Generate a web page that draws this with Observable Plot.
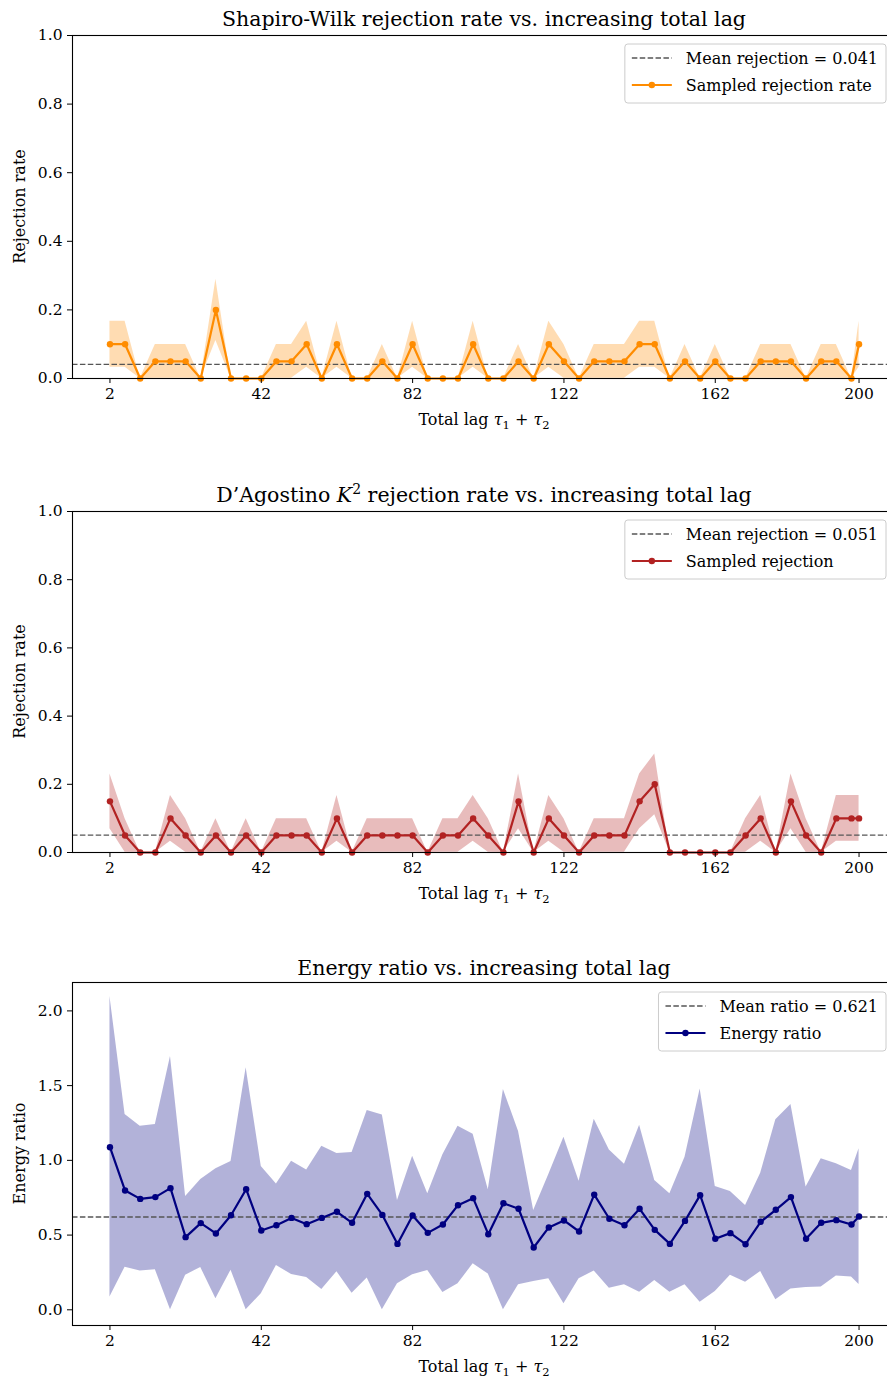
<!DOCTYPE html>
<html>
<head>
<meta charset="utf-8">
<script src="https://cdn.jsdelivr.net/npm/d3@7"></script>
<script src="https://cdn.jsdelivr.net/npm/@observablehq/plot@0.6"></script>
<style>
  html, body { margin: 0; padding: 0; background: #fff; }
  #root { position: relative; width: 887px; height: 1380px; overflow: hidden; background: #fff; }
  .panel { position: absolute; left: 0; width: 887px; height: 460px; }
  .panel svg { display: block; }
</style>
</head>
<body>
<div id="root"></div>
<script>
// ---------------- DATA ----------------
const lags = [2, 6, 10, 14, 18, 22, 26, 30, 34, 38, 42, 46, 50, 54, 58, 62, 66, 70, 74, 78,
  82, 86, 90, 94, 98, 102, 106, 110, 114, 118, 122, 126, 130, 134, 138, 142, 146, 150, 154, 158,
  162, 166, 170, 174, 178, 182, 186, 190, 194, 198, 200];
const xTickValues = [2, 42, 82, 122, 162, 200];

// Shapiro-Wilk
const swRate = [0.1, 0.1, 0, 0.05, 0.05, 0.05, 0, 0.2, 0, 0, 0, 0.05, 0.05, 0.1, 0, 0.1, 0, 0, 0.05, 0,
  0.1, 0, 0, 0, 0.1, 0, 0, 0.05, 0, 0.1, 0.05, 0, 0.05, 0.05, 0.05, 0.1, 0.1, 0, 0.05, 0,
  0.05, 0, 0, 0.05, 0.05, 0.05, 0, 0.05, 0.05, 0, 0.1];
const swLow = [0.033, 0.033, 0, 0.001, 0.001, 0.001, 0, 0.111, 0, 0, 0, 0.001, 0.001, 0.033, 0, 0.033, 0, 0, 0.001, 0,
  0.033, 0, 0, 0, 0.033, 0, 0, 0.001, 0, 0.033, 0.001, 0, 0.001, 0.001, 0.001, 0.033, 0.033, 0, 0.001, 0,
  0.001, 0, 0, 0.001, 0.001, 0.001, 0, 0.001, 0.001, 0, 0.033];
const swHigh = [0.167, 0.167, 0, 0.099, 0.099, 0.099, 0, 0.289, 0, 0, 0, 0.099, 0.099, 0.167, 0, 0.167, 0, 0, 0.099, 0,
  0.167, 0, 0, 0, 0.167, 0, 0, 0.099, 0, 0.167, 0.099, 0, 0.099, 0.099, 0.099, 0.167, 0.167, 0, 0.099, 0,
  0.099, 0, 0, 0.099, 0.099, 0.099, 0, 0.099, 0.099, 0, 0.167];
const swMean = 0.041;

// D'Agostino K^2
const dagRate = [0.15, 0.05, 0, 0, 0.1, 0.05, 0, 0.05, 0, 0.05, 0, 0.05, 0.05, 0.05, 0, 0.1, 0, 0.05, 0.05, 0.05,
  0.05, 0, 0.05, 0.05, 0.1, 0.05, 0, 0.15, 0, 0.1, 0.05, 0, 0.05, 0.05, 0.05, 0.15, 0.2, 0, 0, 0,
  0, 0, 0.05, 0.1, 0, 0.15, 0.05, 0, 0.1, 0.1, 0.1];
const dagLow = [0.070, 0.001, 0, 0, 0.033, 0.001, 0, 0.001, 0, 0.001, 0, 0.001, 0.001, 0.001, 0, 0.033, 0, 0.001, 0.001, 0.001,
  0.001, 0, 0.001, 0.001, 0.033, 0.001, 0, 0.070, 0, 0.033, 0.001, 0, 0.001, 0.001, 0.001, 0.070, 0.111, 0, 0, 0,
  0, 0, 0.001, 0.033, 0, 0.070, 0.001, 0, 0.033, 0.033, 0.033];
const dagHigh = [0.230, 0.099, 0, 0, 0.167, 0.099, 0, 0.099, 0, 0.099, 0, 0.099, 0.099, 0.099, 0, 0.167, 0, 0.099, 0.099, 0.099,
  0.099, 0, 0.099, 0.099, 0.167, 0.099, 0, 0.230, 0, 0.167, 0.099, 0, 0.099, 0.099, 0.099, 0.230, 0.289, 0, 0, 0,
  0, 0, 0.099, 0.167, 0, 0.230, 0.099, 0, 0.167, 0.167, 0.167];
const dagMean = 0.051;

// Energy ratio
const energyRatio = [1.088, 0.798, 0.742, 0.754, 0.814, 0.486, 0.580, 0.511, 0.633, 0.807,
  0.531, 0.566, 0.615, 0.573, 0.615, 0.656, 0.582, 0.776, 0.635, 0.441,
  0.631, 0.515, 0.571, 0.700, 0.747, 0.506, 0.713, 0.676, 0.417, 0.551,
  0.598, 0.524, 0.771, 0.609, 0.566, 0.676, 0.535, 0.441, 0.595, 0.767,
  0.475, 0.513, 0.439, 0.589, 0.669, 0.754, 0.475, 0.582, 0.600, 0.571, 0.624];
const energyLow = [0.085, 0.285, 0.259, 0.268, 0.000, 0.232, 0.283, 0.074, 0.265, 0.000,
  0.107, 0.297, 0.236, 0.216, 0.136, 0.254, 0.111, 0.212, 0.000, 0.174,
  0.234, 0.263, 0.116, 0.174, 0.308, 0.239, 0.000, 0.167, 0.190, 0.207,
  0.040, 0.207, 0.259, 0.145, 0.167, 0.118, 0.196, 0.118, 0.167, 0.051,
  0.123, 0.232, 0.185, 0.256, 0.067, 0.140, 0.149, 0.152, 0.227, 0.219, 0.169];
const energyHigh = [2.096, 1.307, 1.229, 1.240, 1.695, 0.758, 0.872, 0.943, 0.992, 1.619,
  0.959, 0.841, 0.994, 0.936, 1.095, 1.046, 1.052, 1.333, 1.304, 0.731,
  1.028, 0.776, 1.037, 1.229, 1.175, 0.803, 1.474, 1.193, 0.664, 0.905,
  1.155, 0.861, 1.275, 1.070, 0.974, 1.235, 0.865, 0.776, 1.021, 1.478,
  0.825, 0.792, 0.698, 0.914, 1.271, 1.373, 0.821, 1.010, 0.977, 0.932, 1.077];
const energyMean = 0.621;

const rejTicks = [0, 0.2, 0.4, 0.6, 0.8, 1.0];
const energyTicks = [0, 0.5, 1.0, 1.5, 2.0];

// ---------------- DRAW ----------------
const FONT = "DejaVu Serif, serif";
const TICK_FS = 15.5;
const LAB_FS = 16;
const TITLE_FS = 20.5;
const root = document.getElementById("root");

function makePanel({top, rate, lo, hi, mean, color, yDomain, yTicks, mt, mb}) {
  const data = lags.map((x, i) => ({x, y: rate[i], lo: lo[i], hi: hi[i]}));
  const chart = Plot.plot({
    width: 887,
    height: 460,
    marginLeft: 72,
    marginRight: -9,
    marginTop: mt,
    marginBottom: mb,
    style: {fontFamily: FONT, fontSize: TICK_FS + "px", background: "transparent", color: "#000", overflow: "visible"},
    x: {domain: [-7.9, 209.9]},
    y: {domain: yDomain},
    marks: [
      Plot.areaY(data, {x: "x", y1: "lo", y2: "hi", fill: color, fillOpacity: 0.3, curve: "linear"}),
      Plot.ruleY([mean], {stroke: "#555", strokeWidth: 1.3, strokeDasharray: "5.5,2.4"}),
      Plot.line(data, {x: "x", y: "y", stroke: color, strokeWidth: 2.2, curve: "linear"}),
      Plot.dot(data, {x: "x", y: "y", fill: color, r: 3.2}),
      Plot.axisX({ticks: xTickValues, tickSize: 5, tickPadding: 4, label: null, fontSize: TICK_FS}),
      Plot.axisY({ticks: yTicks, tickFormat: d3.format(".1f"), tickSize: 5, tickPadding: 5, label: null, fontSize: TICK_FS}),
      Plot.frame({stroke: "#000", strokeWidth: 1.1})
    ]
  });
  const div = document.createElement("div");
  div.className = "panel";
  div.style.top = top + "px";
  div.appendChild(chart);
  root.appendChild(div);
}

makePanel({top: 0, rate: swRate, lo: swLow, hi: swHigh, mean: swMean, color: "#ff8c00",
  yDomain: [0, 1], yTicks: rejTicks, mt: 35, mb: 82});
makePanel({top: 460, rate: dagRate, lo: dagLow, hi: dagHigh, mean: dagMean, color: "#b22222",
  yDomain: [0, 1], yTicks: rejTicks, mt: 51, mb: 68});
makePanel({top: 920, rate: energyRatio, lo: energyLow, hi: energyHigh, mean: energyMean, color: "#000080",
  yDomain: [-0.105, 2.19], yTicks: energyTicks, mt: 62, mb: 55});

// ---------------- TEXT OVERLAY (titles, axis labels, legends) ----------------
const ov = d3.select(root).append("svg")
  .attr("width", 887).attr("height", 1380)
  .style("position", "absolute").style("left", 0).style("top", 0)
  .style("pointer-events", "none")
  .attr("font-family", FONT);

const CX = 484;
function richText(g, x, y, parts, fs, anchor, rotate) {
  const t = g.append("text").attr("x", x).attr("y", y).attr("font-size", fs)
    .attr("text-anchor", anchor || "middle").attr("fill", "#000");
  if (rotate) t.attr("transform", `rotate(-90 ${x} ${y})`);
  for (const p of parts) {
    const s = t.append("tspan").text(p.t);
    if (p.i) s.attr("font-style", "italic");
    if (p.dy) s.attr("dy", p.dy);
    if (p.fs) s.attr("font-size", p.fs);
  }
  return t;
}

// Titles
richText(ov, CX, 26, [{t: "Shapiro-Wilk rejection rate vs. increasing total lag"}], TITLE_FS);
richText(ov, CX, 502, [{t: "D\u2019Agostino "}, {t: "K", i: true}, {t: "2", dy: -8, fs: 14}, {t: " rejection rate vs. increasing total lag", dy: 8}], TITLE_FS);
richText(ov, CX, 975, [{t: "Energy ratio vs. increasing total lag"}], TITLE_FS);

// X labels
const xlab = [{t: "Total lag "}, {t: "\u03C4", i: true}, {t: "1", dy: 4, fs: 11.5}, {t: " + ", dy: -4}, {t: "\u03C4", i: true}, {t: "2", dy: 4, fs: 11.5}];
richText(ov, CX, 425, xlab, LAB_FS);
richText(ov, CX, 899, xlab, LAB_FS);
richText(ov, CX, 1372, xlab, LAB_FS);

// Y labels
richText(ov, 25, 206.5, [{t: "Rejection rate"}], LAB_FS, "middle", true);
richText(ov, 25, 681.5, [{t: "Rejection rate"}], LAB_FS, "middle", true);
richText(ov, 25, 1153.5, [{t: "Energy ratio"}], LAB_FS, "middle", true);

// Legends
function legend(top, color, labels) {
  const g = ov.append("g");
  const rect = g.append("rect");
  const texts = labels.map((l, i) => g.append("text").attr("y", top + 20 + i * 27).attr("font-size", LAB_FS).attr("fill", "#000").text(l));
  const w = Math.max(...texts.map(t => t.node().getComputedTextLength()));
  const right = 886;
  const left = right - (61 + w + 8);
  rect.attr("x", left).attr("y", top).attr("width", right - left).attr("height", 59)
    .attr("rx", 3).attr("fill", "#fff").attr("fill-opacity", 0.8).attr("stroke", "#cccccc").attr("stroke-width", 1);
  texts.forEach(t => t.attr("x", left + 61));
  g.append("line").attr("x1", left + 7).attr("x2", left + 47).attr("y1", top + 14).attr("y2", top + 14)
    .attr("stroke", "#555").attr("stroke-width", 1.3).attr("stroke-dasharray", "5.5,2.4");
  g.append("line").attr("x1", left + 7).attr("x2", left + 47).attr("y1", top + 41).attr("y2", top + 41)
    .attr("stroke", color).attr("stroke-width", 2.2);
  g.append("circle").attr("cx", left + 27).attr("cy", top + 41).attr("r", 3.2).attr("fill", color);
}
legend(44, "#ff8c00", ["Mean rejection = 0.041", "Sampled rejection rate"]);
legend(520, "#b22222", ["Mean rejection = 0.051", "Sampled rejection"]);
legend(992, "#000080", ["Mean ratio = 0.621", "Energy ratio"]);
</script>
</body>
</html>
